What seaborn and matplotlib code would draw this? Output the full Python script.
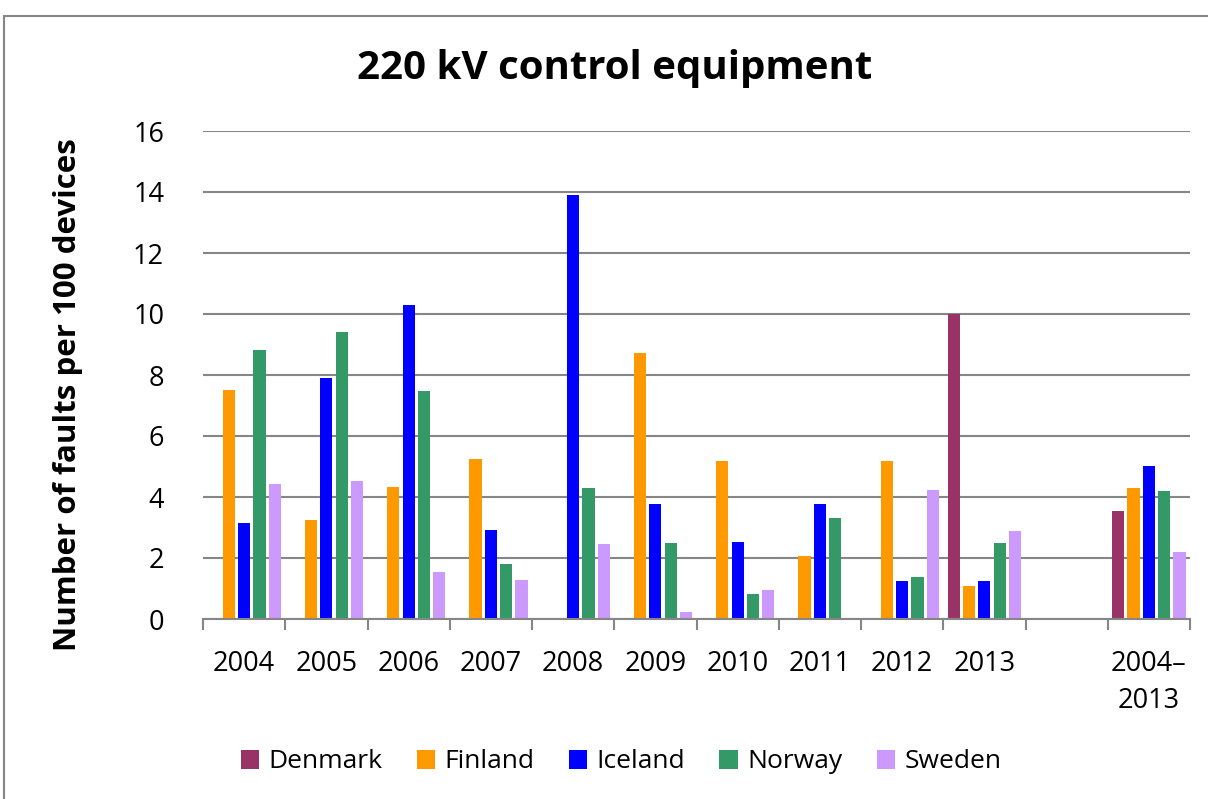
import numpy as np
import pandas as pd
import matplotlib
matplotlib.use("Agg")
import matplotlib.pyplot as plt
import seaborn as sns
from matplotlib.patches import Rectangle

categories = ["2004", "2005", "2006", "2007", "2008", "2009", "2010",
              "2011", "2012", "2013", " ", "2004–\n2013"]
countries = ["Denmark", "Finland", "Iceland", "Norway", "Sweden"]
colors = ["#993366", "#FF9900", "#0000FF", "#339966", "#CC99FF"]

nan = np.nan
denmark = [nan, nan, nan, nan, nan, nan, nan, nan, nan, 10.0, nan, 3.55]
finland = [7.51, 3.26, 4.33, 5.25, nan, 8.71, 5.19, 2.08, 5.19, 1.07, nan, 4.31]
iceland = [3.16, 7.91, 10.28, 2.93, 13.89, 3.78, 2.51, 3.78, 1.26, 1.24, nan, 5.01]
norway = [8.83, 9.41, 7.47, 1.79, 4.29, 2.48, 0.81, 3.31, 1.37, 2.48, nan, 4.19]
sweden = [4.44, 4.54, 1.53, 1.27, 2.45, 0.23, 0.94, nan, 4.24, 2.90, nan, 2.19]

series = {"Denmark": denmark, "Finland": finland, "Iceland": iceland,
          "Norway": norway, "Sweden": sweden}
rows = []
for country in countries:
    for cat, val in zip(categories, series[country]):
        rows.append({"period": cat, "country": country, "value": val})
df = pd.DataFrame(rows)

sns.set_theme(style="white")
plt.rcParams["font.family"] = ["Open Sans", "DejaVu Sans"]
plt.rcParams["text.color"] = "black"
plt.rcParams["xtick.color"] = "black"
plt.rcParams["ytick.color"] = "black"
plt.rcParams["axes.labelcolor"] = "black"

fig = plt.figure(figsize=(12.08, 7.99), dpi=100)
ax = fig.add_axes([203 / 1208, 1 - 619 / 799, (1190 - 203) / 1208, (619 - 131) / 799])

sns.barplot(data=df, x="period", y="value", hue="country", order=categories,
            hue_order=countries, palette=colors, width=0.93, gap=0.2,
            linewidth=0, saturation=1, ax=ax, legend=True)

ax.set_ylim(0, 16)
ax.set_xlim(-0.5, len(categories) - 0.5)
ax.set_yticks(np.arange(0, 17, 2))
ax.yaxis.grid(True, color="#868686", linewidth=1.5)
ax.set_axisbelow(True)
for side in ["left", "right", "top"]:
    ax.spines[side].set_visible(False)
ax.spines["bottom"].set_color("#868686")
ax.spines["bottom"].set_linewidth(1.5)

ax.set_xticks(np.arange(-0.5, len(categories), 1), minor=True)
ax.tick_params(axis="x", which="minor", bottom=True, length=8, width=1.5,
               color="#868686")
ax.tick_params(axis="x", which="major", bottom=False, labelsize=19.5, pad=16)
ax.tick_params(axis="y", left=False, labelsize=19.5, pad=22)
for lbl in ax.get_xticklabels():
    lbl.set_verticalalignment("top")
    lbl.set_linespacing(1.45)

ax.set_xlabel("")
ax.set_ylabel("Number of faults per 100 devices", fontsize=22.5, fontweight="bold")
ax.yaxis.set_label_coords(-(203 - 68) / 987, (619 - 395) / 488)
ax.yaxis.label.set_verticalalignment("center")
fig.text(615 / 1208, 1 - 68 / 799, "220 kV control equipment", ha="center",
         va="center", fontsize=29, fontweight="bold")

handles, labels = ax.get_legend_handles_labels()
ax.legend_.remove()
fig.legend(handles, labels, loc="center", bbox_to_anchor=(621 / 1208, 1 - 762 / 799),
           ncol=5, frameon=False, fontsize=19, handlelength=0.7, handleheight=0.7,
           handletextpad=0.35, columnspacing=1.3)

fig.patches.append(Rectangle((4 / 1208, -0.1), 1.2, 1 - 16 / 799 + 0.1,
                             transform=fig.transFigure, fill=False,
                             edgecolor="#868686", linewidth=1.5))

fig.savefig("out.png", dpi=100)
